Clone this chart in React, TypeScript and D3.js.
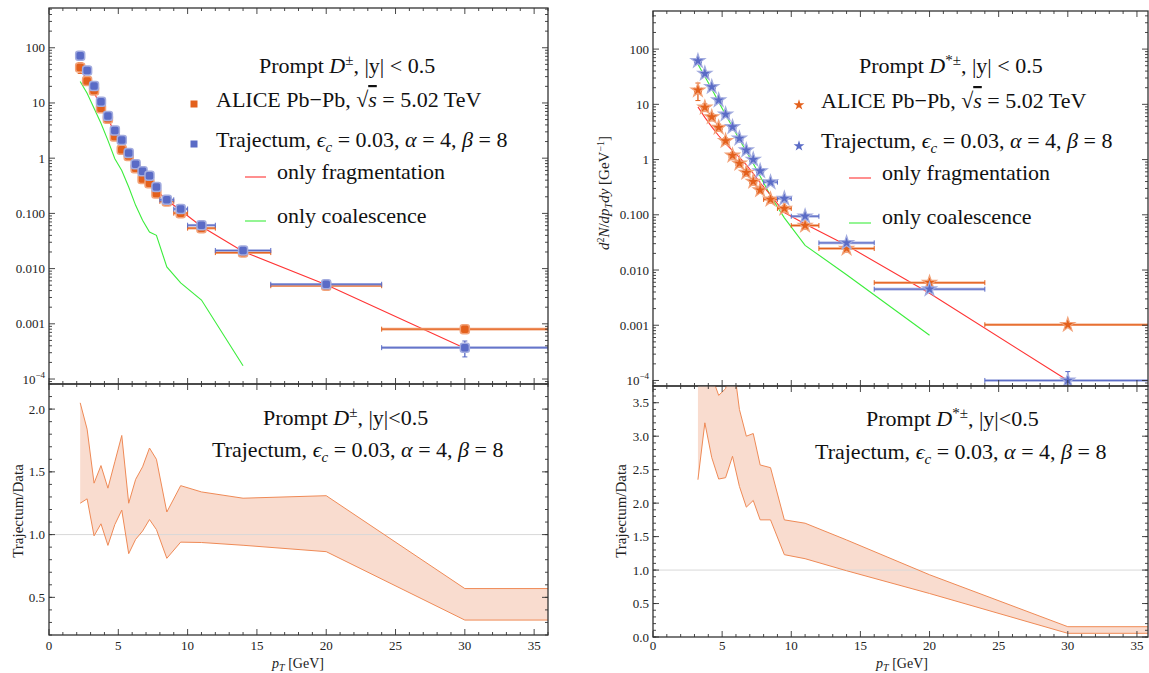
import React from 'react';
import * as d3 from 'd3';

const FONT = '"Liberation Serif", "Times New Roman", serif';
const ORANGE = '#e3601c';
const ORANGE_LIGHT = '#f2a37a';
const BLUE = '#5a6bc6';
const BLUE_LIGHT = '#a3acdf';
const RED = '#ff3434';
const GREEN = '#3ced3c';
const BAND_FILL = '#f9dccf';
const BAND_STROKE = '#ef8a56';
const AXIS = '#333';
const LEG = 22;

// ---------- axis ticks ----------
const X_MAJOR = [0, 5, 10, 15, 20, 25, 30, 35];
const X_LABELS = ['0', '5', '10', '15', '20', '25', '30', '35'];
const LOG_MAJOR = [1e-4, 1e-3, 1e-2, 1e-1, 1, 10, 100];
const LOG_LABELS = ['10^-4', '0.001', '0.010', '0.100', '1', '10', '100'];
const RATIO_L_MAJOR = [0.5, 1.0, 1.5, 2.0];
const RATIO_L_LABELS = ['0.5', '1.0', '1.5', '2.0'];
const RATIO_R_MAJOR = [0, 0.5, 1.0, 1.5, 2.0, 2.5, 3.0, 3.5];
const RATIO_R_LABELS = ['0.0', '0.5', '1.0', '1.5', '2.0', '2.5', '3.0', '3.5'];

// ---------- D± (left) ----------
const dpPt = [2.25, 2.75, 3.25, 3.75, 4.25, 4.75, 5.25, 5.75, 6.25, 6.75, 7.25, 7.75, 8.5, 9.5, 11, 14, 20, 30];
const dpLo = [2, 2.5, 3, 3.5, 4, 4.5, 5, 5.5, 6, 6.5, 7, 7.5, 8, 9, 10, 12, 16, 24];
const dpHi = [2.5, 3, 3.5, 4, 4.5, 5, 5.5, 6, 6.5, 7, 7.5, 8, 9, 10, 12, 16, 24, 36];
const dpAlice = [44, 25, 16.9, 8.0, 5.2, 2.47, 1.42, 1.1, 0.66, 0.42, 0.35, 0.23, 0.165, 0.101, 0.054, 0.0195, 0.0049, 0.0008];
const dpAliceErr = [0.22, 0.14, 0.14, 0.13, 0.13, 0.13, 0.13, 0.13, 0.13, 0.14, 0.14, 0.14, 0.13, 0.13, 0.13, 0.13, 0.11, 0.07];
const dpTraj = [72, 38.8, 20.2, 10.5, 5.8, 3.18, 2.13, 1.24, 0.78, 0.58, 0.48, 0.30, 0.176, 0.12, 0.061, 0.0213, 0.0052, 0.00037];
const dpTrajErr = [0.03, 0.03, 0.03, 0.03, 0.03, 0.03, 0.03, 0.03, 0.03, 0.04, 0.04, 0.04, 0.05, 0.05, 0.05, 0.06, 0.08, 0.32];
const dpFrag = [44, 25, 15.5, 8.5, 5.2, 2.9, 1.7, 1.1, 0.72, 0.5, 0.36, 0.26, 0.175, 0.113, 0.058, 0.0204, 0.0051, 0.00036];
const dpCoalPt = [2.25, 2.75, 3.25, 3.75, 4.25, 4.75, 5.25, 5.75, 6.25, 6.75, 7.25, 7.75, 8.5, 9.5, 11, 14];
const dpCoal = [24.5, 15, 8, 4.3, 2.1, 0.98, 0.6, 0.3, 0.14, 0.075, 0.046, 0.04, 0.0107, 0.0055, 0.0027, 0.000174];
const dpRatioPt = [2.25, 2.75, 3.25, 3.75, 4.25, 4.75, 5.25, 5.75, 6.25, 6.75, 7.25, 7.75, 8.5, 9.5, 11, 14, 20, 30, 36];
const dpRatioHi = [2.05, 1.84, 1.41, 1.55, 1.37, 1.58, 1.79, 1.25, 1.44, 1.54, 1.69, 1.6, 1.18, 1.39, 1.34, 1.29, 1.31, 0.57, 0.57];
const dpRatioLo = [1.25, 1.285, 0.99, 1.086, 0.914, 1.08, 1.195, 0.848, 0.962, 1.028, 1.12, 1.04, 0.811, 0.94, 0.937, 0.915, 0.864, 0.319, 0.319];

// ---------- D*± (right) ----------
const dsPt = [3.25, 3.75, 4.25, 4.75, 5.25, 5.75, 6.25, 6.75, 7.25, 7.75, 8.5, 9.5, 11, 14, 20, 30];
const dsLo = [3, 3.5, 4, 4.5, 5, 5.5, 6, 6.5, 7, 7.5, 8, 9, 10, 12, 16, 24];
const dsHi = [3.5, 4, 4.5, 5, 5.5, 6, 6.5, 7, 7.5, 8, 9, 10, 12, 16, 24, 36];
const dsAlice = [18, 8.8, 5.9, 3.8, 2.18, 1.19, 0.85, 0.58, 0.40, 0.28, 0.19, 0.13, 0.064, 0.0245, 0.0059, 0.00102];
const dsAliceErr = [0.35, 0.16, 0.15, 0.15, 0.13, 0.13, 0.13, 0.13, 0.13, 0.13, 0.12, 0.12, 0.12, 0.1, 0.1, 0.06];
const dsTraj = [61, 36, 20.7, 11.9, 6.6, 3.9, 2.41, 1.48, 1.0, 0.62, 0.39, 0.197, 0.094, 0.031, 0.0045, 0.0001];
const dsTrajErr = [0.03, 0.03, 0.03, 0.03, 0.03, 0.03, 0.03, 0.03, 0.03, 0.04, 0.05, 0.05, 0.06, 0.08, 0.1, 0.45];
const dsFrag = [9.0, 5.8, 3.9, 2.7, 1.95, 1.45, 1.1, 0.8, 0.56, 0.38, 0.23, 0.11, 0.068, 0.028, 0.0038, 0.0001];
const dsCoalPt = [3.25, 3.75, 4.25, 4.75, 5.25, 5.75, 6.25, 6.75, 7.25, 7.75, 8.5, 9.5, 11, 14, 20];
const dsCoal = [53, 32, 19, 11, 6.5, 3.9, 2.3, 1.4, 0.85, 0.5, 0.22, 0.088, 0.028, 0.0082, 0.00066];
const dsRatioPt = [3.25, 3.75, 4.25, 4.75, 5.25, 5.75, 6.25, 6.75, 7.25, 7.75, 8.5, 9.5, 11, 14, 20, 30, 36];
const dsRatioHi = [5.2, 4.6, 3.9, 3.61, 3.71, 4.2, 3.4, 3.0, 3.04, 2.57, 2.53, 1.75, 1.70, 1.45, 0.93, 0.154, 0.154];
const dsRatioLo = [2.35, 3.2, 2.68, 2.36, 2.38, 2.7, 2.25, 1.94, 2.04, 1.75, 1.75, 1.23, 1.17, 0.99, 0.65, 0.055, 0.055];

const W = 1149;
const H = 673;

// ---------- scales ----------
const xL = d3.scaleLinear().domain([0, 36]).range([49, 548]);
const yLT = d3.scaleLog().domain([10 ** -4.09, 10 ** 2.72]).range([384, 8]);
const yLB = d3.scaleLinear().domain([0.2, 2.2]).range([635, 384]);
const xR = d3.scaleLinear().domain([0, 35.8]).range([653, 1148]);
const yRT = d3.scaleLog().domain([10 ** -4.1, 10 ** 2.69]).range([386, 11]);
const yRB = d3.scaleLinear().domain([0, 3.75]).range([637, 386]);

function logMinors(dom: number[]) {
  const out: number[] = [];
  for (let e = -5; e <= 3; e++) for (let k = 2; k <= 9; k++) {
    const v = k * 10 ** e;
    if (v >= dom[0] && v <= dom[1]) out.push(v);
  }
  return out;
}
function linMinors(dom: number[], step: number) {
  return d3.range(Math.ceil(dom[0] / step) * step, dom[1] + 1e-9, step).map(v => Math.round(v * 1000) / 1000);
}

function tickLabel(s: string) {
  if (s.includes('^')) {
    const [b, e] = s.split('^');
    return (<>{b}<tspan dy={-6} fontSize={9}>{e.replace('-', '−')}</tspan></>);
  }
  return s;
}

function Frame({ xs, ys, yMaj, yLab, yMin, xLabels }: any) {
  const [x0, x1] = xs.range();
  const [yb, yt] = ys.range();
  const xd = xs.domain();
  const xMaj = X_MAJOR.filter(v => v <= xd[1]);
  const xMin = linMinors(xd, 1).filter(v => v % 5 !== 0);
  const T = 6, t = 3;
  return (
    <g>
      <g stroke={AXIS} strokeWidth={0.9}>
        {xMaj.map(v => (
          <g key={'xM' + v}>
            <line x1={xs(v)} x2={xs(v)} y1={yb} y2={yb - T} />
            <line x1={xs(v)} x2={xs(v)} y1={yt} y2={yt + T} />
          </g>
        ))}
        {xMin.map(v => (
          <g key={'xm' + v}>
            <line x1={xs(v)} x2={xs(v)} y1={yb} y2={yb - t} />
            <line x1={xs(v)} x2={xs(v)} y1={yt} y2={yt + t} />
          </g>
        ))}
        {yMaj.map((v: number) => (
          <g key={'yM' + v}>
            <line x1={x0} x2={x0 + T} y1={ys(v)} y2={ys(v)} />
            <line x1={x1} x2={x1 - T} y1={ys(v)} y2={ys(v)} />
          </g>
        ))}
        {yMin.map((v: number) => (
          <g key={'ym' + v}>
            <line x1={x0} x2={x0 + t} y1={ys(v)} y2={ys(v)} />
            <line x1={x1} x2={x1 - t} y1={ys(v)} y2={ys(v)} />
          </g>
        ))}
      </g>
      <rect x={x0} y={yt} width={x1 - x0} height={yb - yt} fill="none" stroke={AXIS} strokeWidth={1.3} />
      <g fontSize={13} fill="#222" textAnchor="end">
        {yMaj.map((v: number, i: number) => (
          <text key={'yl' + v} x={x0 - 4} y={ys(v) + 4.5}>{tickLabel(yLab[i])}</text>
        ))}
      </g>
      {xLabels && (
        <g fontSize={13} fill="#222" textAnchor="middle">
          {xMaj.map((v) => (
            <text key={'xl' + v} x={xs(v)} y={650}>{X_LABELS[X_MAJOR.indexOf(v)]}</text>
          ))}
        </g>
      )}
    </g>
  );
}

function Points({ xs, ys, pt, lo, hi, vals, errs, color, light, kind, clip }: any) {
  const star = d3.symbol(d3.symbolStar, 60)() as string;
  return (
    <g clipPath={`url(#${clip})`}>
      {pt.map((p: number, i: number) => {
        const cx = xs(p), cy = ys(vals[i]);
        const ya = ys(vals[i] * (1 + errs[i])), yb = ys(vals[i] * (1 - errs[i]));
        const xa = xs(lo[i]), xb = xs(hi[i]);
        return (
          <g key={i}>
            <line x1={xa} x2={xb} y1={cy} y2={cy} stroke={light} strokeWidth={2.6} />
            <line x1={xa} x2={xb} y1={cy} y2={cy} stroke={color} strokeWidth={1} />
            <line x1={xa} x2={xa} y1={cy - 2.5} y2={cy + 2.5} stroke={color} strokeWidth={1} />
            <line x1={xb} x2={xb} y1={cy - 2.5} y2={cy + 2.5} stroke={color} strokeWidth={1} />
            <line x1={cx} x2={cx} y1={ya} y2={yb} stroke={color} strokeWidth={1.3} />
            <line x1={cx - 2.5} x2={cx + 2.5} y1={ya} y2={ya} stroke={color} strokeWidth={1} />
            <line x1={cx - 2.5} x2={cx + 2.5} y1={yb} y2={yb} stroke={color} strokeWidth={1} />
            {kind === 'square' ? (
              <rect x={cx - 4.5} y={cy - 4.5} width={9} height={9} rx={2.5} fill={color} stroke={light} strokeWidth={1.5} />
            ) : (
              <path d={star} transform={`translate(${cx},${cy})`} fill={color} stroke={light} strokeWidth={1.2} />
            )}
          </g>
        );
      })}
    </g>
  );
}

function Curve({ xs, ys, pt, vals, color, clip }: any) {
  const gen = d3.line<number>().x((_, i) => xs(pt[i])).y(v => ys(v));
  return <path d={gen(vals) as string} fill="none" stroke={color} strokeWidth={1.1} clipPath={`url(#${clip})`} />;
}

function Band({ xs, ys, pt, hi, lo, clip }: any) {
  const idx = pt.map((_: number, i: number) => i);
  const area = d3.area<number>().x(i => xs(pt[i])).y0(i => ys(lo[i])).y1(i => ys(hi[i]));
  const lineHi = d3.line<number>().x(i => xs(pt[i])).y(i => ys(hi[i]));
  const lineLo = d3.line<number>().x(i => xs(pt[i])).y(i => ys(lo[i]));
  return (
    <g clipPath={`url(#${clip})`}>
      <path d={area(idx) as string} fill={BAND_FILL} stroke="none" />
      <line x1={xs.range()[0]} x2={xs.range()[1]} y1={ys(1)} y2={ys(1)} stroke="#d8d8d8" strokeWidth={1} />
      <path d={lineHi(idx) as string} fill="none" stroke={BAND_STROKE} strokeWidth={1} />
      <path d={lineLo(idx) as string} fill="none" stroke={BAND_STROKE} strokeWidth={1} />
    </g>
  );
}

const It = ({ children }: any) => <tspan fontStyle="italic">{children}</tspan>;

function TrajLine({ x, y }: any) {
  return (
    <text x={x} y={y} fontSize={LEG} fill="#111">
      Trajectum, <It>ϵ</It><tspan dy={5} fontSize={15} fontStyle="italic">c</tspan>
      <tspan dy={-5}> = 0.03, </tspan><It>α</It> = 4, <It>β</It> = 8
    </text>
  );
}
function AliceLine({ x, y }: any) {
  return (
    <text x={x} y={y} fontSize={LEG} fill="#111">
      ALICE Pb−Pb, √<tspan fontStyle="italic" style={{ textDecoration: 'overline' }}>s</tspan> = 5.02 TeV
    </text>
  );
}
function Title({ x, y, sup, compact }: any) {
  return (
    <text x={x} y={y} fontSize={LEG} fill="#111">
      Prompt <It>D</It><tspan dy={-8} fontSize={15}>{sup}</tspan>
      <tspan dy={8}>{compact ? ', |y|<0.5' : ', |y| < 0.5'}</tspan>
    </text>
  );
}

export default function App() {
  const clipRect = (id: string, xs: any, ys: any) => {
    const [x0, x1] = xs.range();
    const [yb, yt] = ys.range();
    return (
      <clipPath id={id} key={id}>
        <rect x={x0} y={yt} width={x1 - x0} height={yb - yt} />
      </clipPath>
    );
  };
  const legStar = d3.symbol(d3.symbolStar, 36)() as string;
  const ptLabel = (x: number) => (
    <text x={x} y={668} fontSize={14} textAnchor="middle" fill="#222">
      <It>p</It><tspan dy={3} fontSize={10} fontStyle="italic">T</tspan><tspan dy={-3}> [GeV]</tspan>
    </text>
  );
  return (
    <svg width={W} height={H} style={{ position: 'absolute', left: 0, top: 0, background: '#fff' }} fontFamily={FONT}>
      <defs>
        {clipRect('cLT', xL, yLT)}
        {clipRect('cLB', xL, yLB)}
        {clipRect('cRT', xR, yRT)}
        {clipRect('cRB', xR, yRB)}
      </defs>
      <rect x={0} y={0} width={W} height={H} fill="#fff" />

      {/* ---------- left top ---------- */}
      <Curve xs={xL} ys={yLT} pt={dpCoalPt} vals={dpCoal} color={GREEN} clip="cLT" />
      <Curve xs={xL} ys={yLT} pt={dpPt} vals={dpFrag} color={RED} clip="cLT" />
      <Points xs={xL} ys={yLT} pt={dpPt} lo={dpLo} hi={dpHi} vals={dpAlice} errs={dpAliceErr} color={ORANGE} light={ORANGE_LIGHT} kind="square" clip="cLT" />
      <Points xs={xL} ys={yLT} pt={dpPt} lo={dpLo} hi={dpHi} vals={dpTraj} errs={dpTrajErr} color={BLUE} light={BLUE_LIGHT} kind="square" clip="cLT" />
      <Frame xs={xL} ys={yLT} yMaj={LOG_MAJOR} yLab={LOG_LABELS} yMin={logMinors(yLT.domain())} xLabels={false} />
      <Title x={259} y={73} sup="±" />
      <rect x={190.5} y={100.5} width={7} height={7} fill={ORANGE} />
      <AliceLine x={216} y={107} />
      <rect x={190.5} y={140.5} width={7} height={7} fill={BLUE} />
      <TrajLine x={216} y={147} />
      <line x1={245} x2={266} y1={177} y2={177} stroke={RED} strokeWidth={1.1} />
      <text x={277} y={179} fontSize={LEG} fill="#111">only fragmentation</text>
      <line x1={245} x2={266} y1={221} y2={221} stroke={GREEN} strokeWidth={1.1} />
      <text x={277} y={223} fontSize={LEG} fill="#111">only coalescence</text>

      {/* ---------- left bottom ---------- */}
      <Band xs={xL} ys={yLB} pt={dpRatioPt} hi={dpRatioHi} lo={dpRatioLo} clip="cLB" />
      <Frame xs={xL} ys={yLB} yMaj={RATIO_L_MAJOR} yLab={RATIO_L_LABELS} yMin={linMinors(yLB.domain(), 0.1)} xLabels={true} />
      <Title x={263} y={425} sup="±" compact />
      <TrajLine x={212} y={457} />
      <text transform="translate(23,511) rotate(-90)" fontSize={15} textAnchor="middle" fill="#222">Trajectum/Data</text>
      {ptLabel(298)}

      {/* ---------- right top ---------- */}
      <Curve xs={xR} ys={yRT} pt={dsCoalPt} vals={dsCoal} color={GREEN} clip="cRT" />
      <Curve xs={xR} ys={yRT} pt={dsPt} vals={dsFrag} color={RED} clip="cRT" />
      <Points xs={xR} ys={yRT} pt={dsPt} lo={dsLo} hi={dsHi} vals={dsAlice} errs={dsAliceErr} color={ORANGE} light={ORANGE_LIGHT} kind="star" clip="cRT" />
      <Points xs={xR} ys={yRT} pt={dsPt} lo={dsLo} hi={dsHi} vals={dsTraj} errs={dsTrajErr} color={BLUE} light={BLUE_LIGHT} kind="star" clip="cRT" />
      <Frame xs={xR} ys={yRT} yMaj={LOG_MAJOR} yLab={LOG_LABELS} yMin={logMinors(yRT.domain())} xLabels={false} />
      <Title x={859} y={73} sup="*±" />
      <path d={legStar} transform="translate(799,105)" fill={ORANGE} />
      <AliceLine x={821} y={108} />
      <path d={legStar} transform="translate(799,146)" fill={BLUE} />
      <TrajLine x={821} y={148} />
      <line x1={849} x2={871} y1={178} y2={178} stroke={RED} strokeWidth={1.1} />
      <text x={882} y={180} fontSize={LEG} fill="#111">only fragmentation</text>
      <line x1={849} x2={871} y1={223} y2={223} stroke={GREEN} strokeWidth={1.1} />
      <text x={882} y={224} fontSize={LEG} fill="#111">only coalescence</text>
      <text transform="translate(609,193) rotate(-90)" fontSize={15} textAnchor="middle" fill="#222">
        <It>d</It><tspan dy={-5} fontSize={10}>2</tspan><tspan dy={5} fontStyle="italic">N</tspan>/<It>dp</It>
        <tspan dy={3} fontSize={10} fontStyle="italic">T</tspan><tspan dy={-3} fontStyle="italic">dy</tspan> [GeV
        <tspan dy={-5} fontSize={10}>−1</tspan><tspan dy={5}>]</tspan>
      </text>

      {/* ---------- right bottom ---------- */}
      <Band xs={xR} ys={yRB} pt={dsRatioPt} hi={dsRatioHi} lo={dsRatioLo} clip="cRB" />
      <Frame xs={xR} ys={yRB} yMaj={RATIO_R_MAJOR} yLab={RATIO_R_LABELS} yMin={linMinors(yRB.domain(), 0.1)} xLabels={true} />
      <Title x={866} y={426} sup="*±" compact />
      <TrajLine x={815} y={459} />
      <text transform="translate(626,511) rotate(-90)" fontSize={15} textAnchor="middle" fill="#222">Trajectum/Data</text>
      {ptLabel(902)}
    </svg>
  );
}
